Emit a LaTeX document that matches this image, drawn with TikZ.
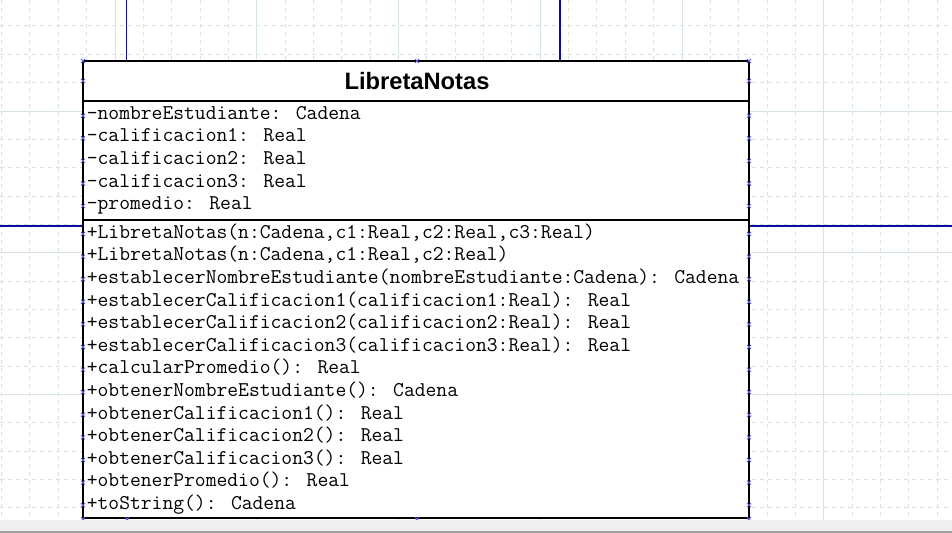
\documentclass[tikz,border=0pt]{standalone}
\usepackage{fontspec}
\newfontfamily\titulofont{Liberation Sans}
\definecolor{gridgris}{RGB}{214,228,224}
\definecolor{azulenlace}{RGB}{10,10,165}
\definecolor{azulmarca}{RGB}{90,90,235}
\definecolor{barragris}{RGB}{240,240,240}
\definecolor{bordegris}{RGB}{160,160,160}

\begin{document}
\begin{tikzpicture}[x=0.02cm,y=-0.02cm,
    rejilla/.style={draw=gridgris,line width=0.55pt,dash pattern=on 0.08cm off 0.08cm},
    rejillafuerte/.style={draw=gridgris,line width=0.55pt},
    enlace/.style={draw=azulenlace,line width=0.6pt},
    marca/.style={draw=azulmarca,line width=0.45pt},
    clase/.style={draw,fill=white,line width=1.6pt,inner sep=0pt,outer sep=0pt,
        minimum width=13.32cm,minimum height=9.14cm},
    titulo/.style={anchor=base,inner sep=0pt,font=\titulofont\bfseries\fontsize{13.5}{16}\selectfont},
    miembro/.style={anchor=base west,inner sep=0pt,font=\ttfamily\fontsize{11.95}{14}\selectfont}]
    \useasboundingbox (0,0) rectangle (952,533);
    \fill[white] (0,0) rectangle (952,533);
    % rejilla de fondo
    \foreach \i in {-4,...,29}
        \draw[rejilla] ({115+28.35*\i},0) -- ++(0,520);
    \foreach \i in {-3,...,14}
        \draw[rejilla] (0,{111+28.35*\i}) -- ++(952,0);
    \foreach \i in {0,...,5}
        \draw[rejillafuerte] ({115+141.75*\i},0) -- ++(0,520);
    \foreach \i in {0,...,2}
        \draw[rejillafuerte] (0,{111+141.75*\i}) -- ++(952,0);
    % enlaces
    \coordinate (arribaA) at (126.5,0);
    \coordinate (arribaB) at (560,0);
    \coordinate (izq) at (0,226);
    \coordinate (der) at (952,226);
    \node[clase] (libreta) at (416,289.5) {};
    \draw[enlace] (arribaA) -- (arribaA |- libreta.north);
    \draw[enlace] (arribaB) -- (arribaB |- libreta.north);
    \draw[enlace] (izq) -- (izq -| libreta.west);
    \draw[enlace] (der) -- (der -| libreta.east);
    \node[clase] at (libreta) {};
    \draw[line width=1.6pt] (libreta.west |- 0,101) -- (libreta.east |- 0,101);
    \draw[line width=1.6pt] (libreta.west |- 0,220) -- (libreta.east |- 0,220);
    \node[titulo] (nombre) at (417,89.3) {LibretaNotas};
    \foreach \txt [count=\i from 0] in {{-nombreEstudiante: Cadena},{-calificacion1: Real},
        {-calificacion2: Real},{-calificacion3: Real},{-promedio: Real}}
        \node[miembro] (atrib\i) at (86.5,{119.3+22.6*\i}) {\txt};
    \foreach \txt [count=\i from 0] in {{+LibretaNotas(n:Cadena,c1:Real,c2:Real,c3:Real)},
        {+LibretaNotas(n:Cadena,c1:Real,c2:Real)},
        {+establecerNombreEstudiante(nombreEstudiante:Cadena): Cadena},
        {+establecerCalificacion1(calificacion1:Real): Real},
        {+establecerCalificacion2(calificacion2:Real): Real},
        {+establecerCalificacion3(calificacion3:Real): Real},
        {+calcularPromedio(): Real},
        {+obtenerNombreEstudiante(): Cadena},
        {+obtenerCalificacion1(): Real},
        {+obtenerCalificacion2(): Real},
        {+obtenerCalificacion3(): Real},
        {+obtenerPromedio(): Real},
        {+toString(): Cadena}}
        \node[miembro] (metodo\i) at (86.5,{238.3+22.6*\i}) {\txt};
    % marcas de anclaje
    \foreach \y in {61,81,115.7,138.3,160.9,183.5,206.1,234,256.6,279.2,301.8,324.4,347,369.6,
        392.2,414.8,437.4,460,482.6,505.2,519} {
        \draw[marca] (81,\y-2) -- ++(4,4) (81,\y+2) -- ++(4,-4);
        \draw[marca] (747,\y-2) -- ++(4,4) (747,\y+2) -- ++(4,-4);
    }
    \foreach \x/\y in {127/519,417/519,417/61}
        \draw[marca] (\x-2,\y-2) -- ++(4,4) (\x-2,\y+2) -- ++(4,-4);
    % barra inferior
    \fill[barragris] (0,520) rectangle (952,533);
    \fill[bordegris] (0,531) rectangle (952,533);
\end{tikzpicture}
\end{document}
